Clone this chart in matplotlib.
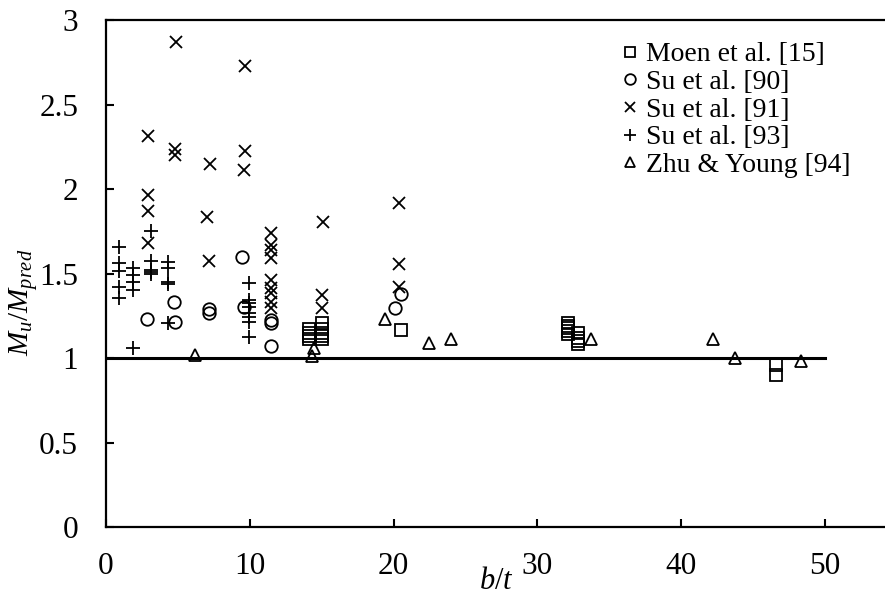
import matplotlib
matplotlib.use("Agg")
from matplotlib import pyplot as plt

plt.rcParams['font.family'] = ['Liberation Serif', 'DejaVu Serif']
plt.rcParams['mathtext.fontset'] = 'custom'
plt.rcParams['mathtext.it'] = 'Liberation Serif:italic'
plt.rcParams['mathtext.rm'] = 'Liberation Serif'

# Moen et al. [15]
moen_x = [14.1, 14.1, 14.1, 14.1, 15.0, 15.0, 15.0, 15.0, 15.0, 20.5,
          32.1, 32.1, 32.1, 32.1, 32.1, 32.8, 32.8, 32.8, 32.8, 46.6, 46.6]
moen_y = [1.17, 1.15, 1.13, 1.11, 1.21, 1.17, 1.15, 1.13, 1.11, 1.166,
          1.205, 1.19, 1.175, 1.16, 1.145, 1.15, 1.12, 1.10, 1.08, 0.958, 0.899]

# Su et al. [90]
su90_x = [2.83, 4.73, 4.8, 7.18, 7.18, 9.44, 9.6, 11.45, 11.45, 11.45, 20.1, 20.49]
su90_y = [1.23, 1.333, 1.215, 1.288, 1.268, 1.6, 1.30, 1.225, 1.205, 1.071, 1.298, 1.379]

# Su et al. [91]
su91_x = [4.84, 9.67, 2.9, 4.8, 4.8, 7.23, 9.67, 9.6, 2.9, 2.9, 2.9, 7.05, 7.18,
          11.45, 11.45, 11.45, 11.45, 11.45, 11.45, 11.45, 11.45, 11.45,
          15.07, 15.0, 15.0, 20.37, 20.37, 20.37]
su91_y = [2.87, 2.73, 2.315, 2.235, 2.20, 2.15, 2.225, 2.11, 1.965, 1.87, 1.68, 1.835, 1.575,
          1.738, 1.669, 1.639, 1.59, 1.462, 1.412, 1.382, 1.333, 1.294,
          1.806, 1.373, 1.294, 1.915, 1.556, 1.422]

# Su et al. [93]
su93_x = [0.9, 0.9, 0.9, 0.9, 0.9,
          1.9, 1.9, 1.9, 1.9, 1.9,
          3.1, 3.1, 3.1, 3.1, 3.1,
          4.33, 4.33, 4.33, 4.33, 4.33,
          9.97, 9.97, 9.97, 9.97, 9.97, 9.97, 9.97, 9.97]
su93_y = [1.655, 1.565, 1.517, 1.418, 1.353,
          1.53, 1.49, 1.45, 1.40, 1.057,
          1.75, 1.575, 1.52, 1.51, 1.50,
          1.57, 1.535, 1.45, 1.44, 1.205,
          1.446, 1.343, 1.324, 1.30, 1.268, 1.241, 1.215, 1.122]

# Zhu & Young [94]
zhu_x = [6.19, 14.3, 14.45, 19.4, 22.49, 23.97, 33.7, 42.2, 43.7, 48.33]
zhu_y = [1.02, 1.01, 1.06, 1.229, 1.09, 1.11, 1.11, 1.11, 0.998, 0.982]

fig = plt.figure(figsize=(8.85, 5.95), dpi=100)
ax = fig.add_axes([0.1198, 0.1143, 0.8938, 0.852])

ms = 9
mew = 1.3
ax.plot(moen_x, moen_y, 's', mfc='none', mec='black', ms=ms, mew=mew, label='Moen et al. [15]')
ax.plot(su90_x, su90_y, 'o', mfc='none', mec='black', ms=ms, mew=mew, label='Su et al. [90]')
ax.plot(su91_x, su91_y, 'x', color='black', ms=ms, mew=mew, label='Su et al. [91]')
ax.plot(su93_x, su93_y, '+', color='black', ms=ms + 1, mew=mew, label='Su et al. [93]')
ax.plot(zhu_x, zhu_y, '^', mfc='none', mec='black', ms=ms, mew=mew, label='Zhu & Young [94]')

# unity line
ax.plot([0, 50], [1, 1], color='black', lw=2.2)

ax.set_xlim(0, 55)
ax.set_ylim(0, 3)
ax.set_xticks([0, 10, 20, 30, 40, 50])
ax.set_yticks([0, 0.5, 1, 1.5, 2, 2.5, 3])
ax.set_yticklabels(['0', '0.5', '1', '1.5', '2', '2.5', '3'])
ax.tick_params(direction='in', length=6, width=1.5, labelsize=22.5)
ax.tick_params(axis='y', pad=20)
ax.tick_params(axis='x', pad=18)
for s in ax.spines.values():
    s.set_linewidth(1.6)

ax.set_xlabel('$b/t$', fontsize=22)
ax.xaxis.set_label_coords(0.494, -0.078)
ax.set_ylabel('$M_u/M_{pred}$', fontsize=21)
ax.yaxis.set_label_coords(-0.083, 0.444)

ax.legend(loc='upper left', bbox_to_anchor=(0.6478, 0.9566), frameon=False,
          fontsize=20, handlelength=0.8, handletextpad=0.2, labelspacing=0.08,
          borderpad=0, borderaxespad=0, markerscale=0.85)

fig.savefig('out.png', dpi=100)
